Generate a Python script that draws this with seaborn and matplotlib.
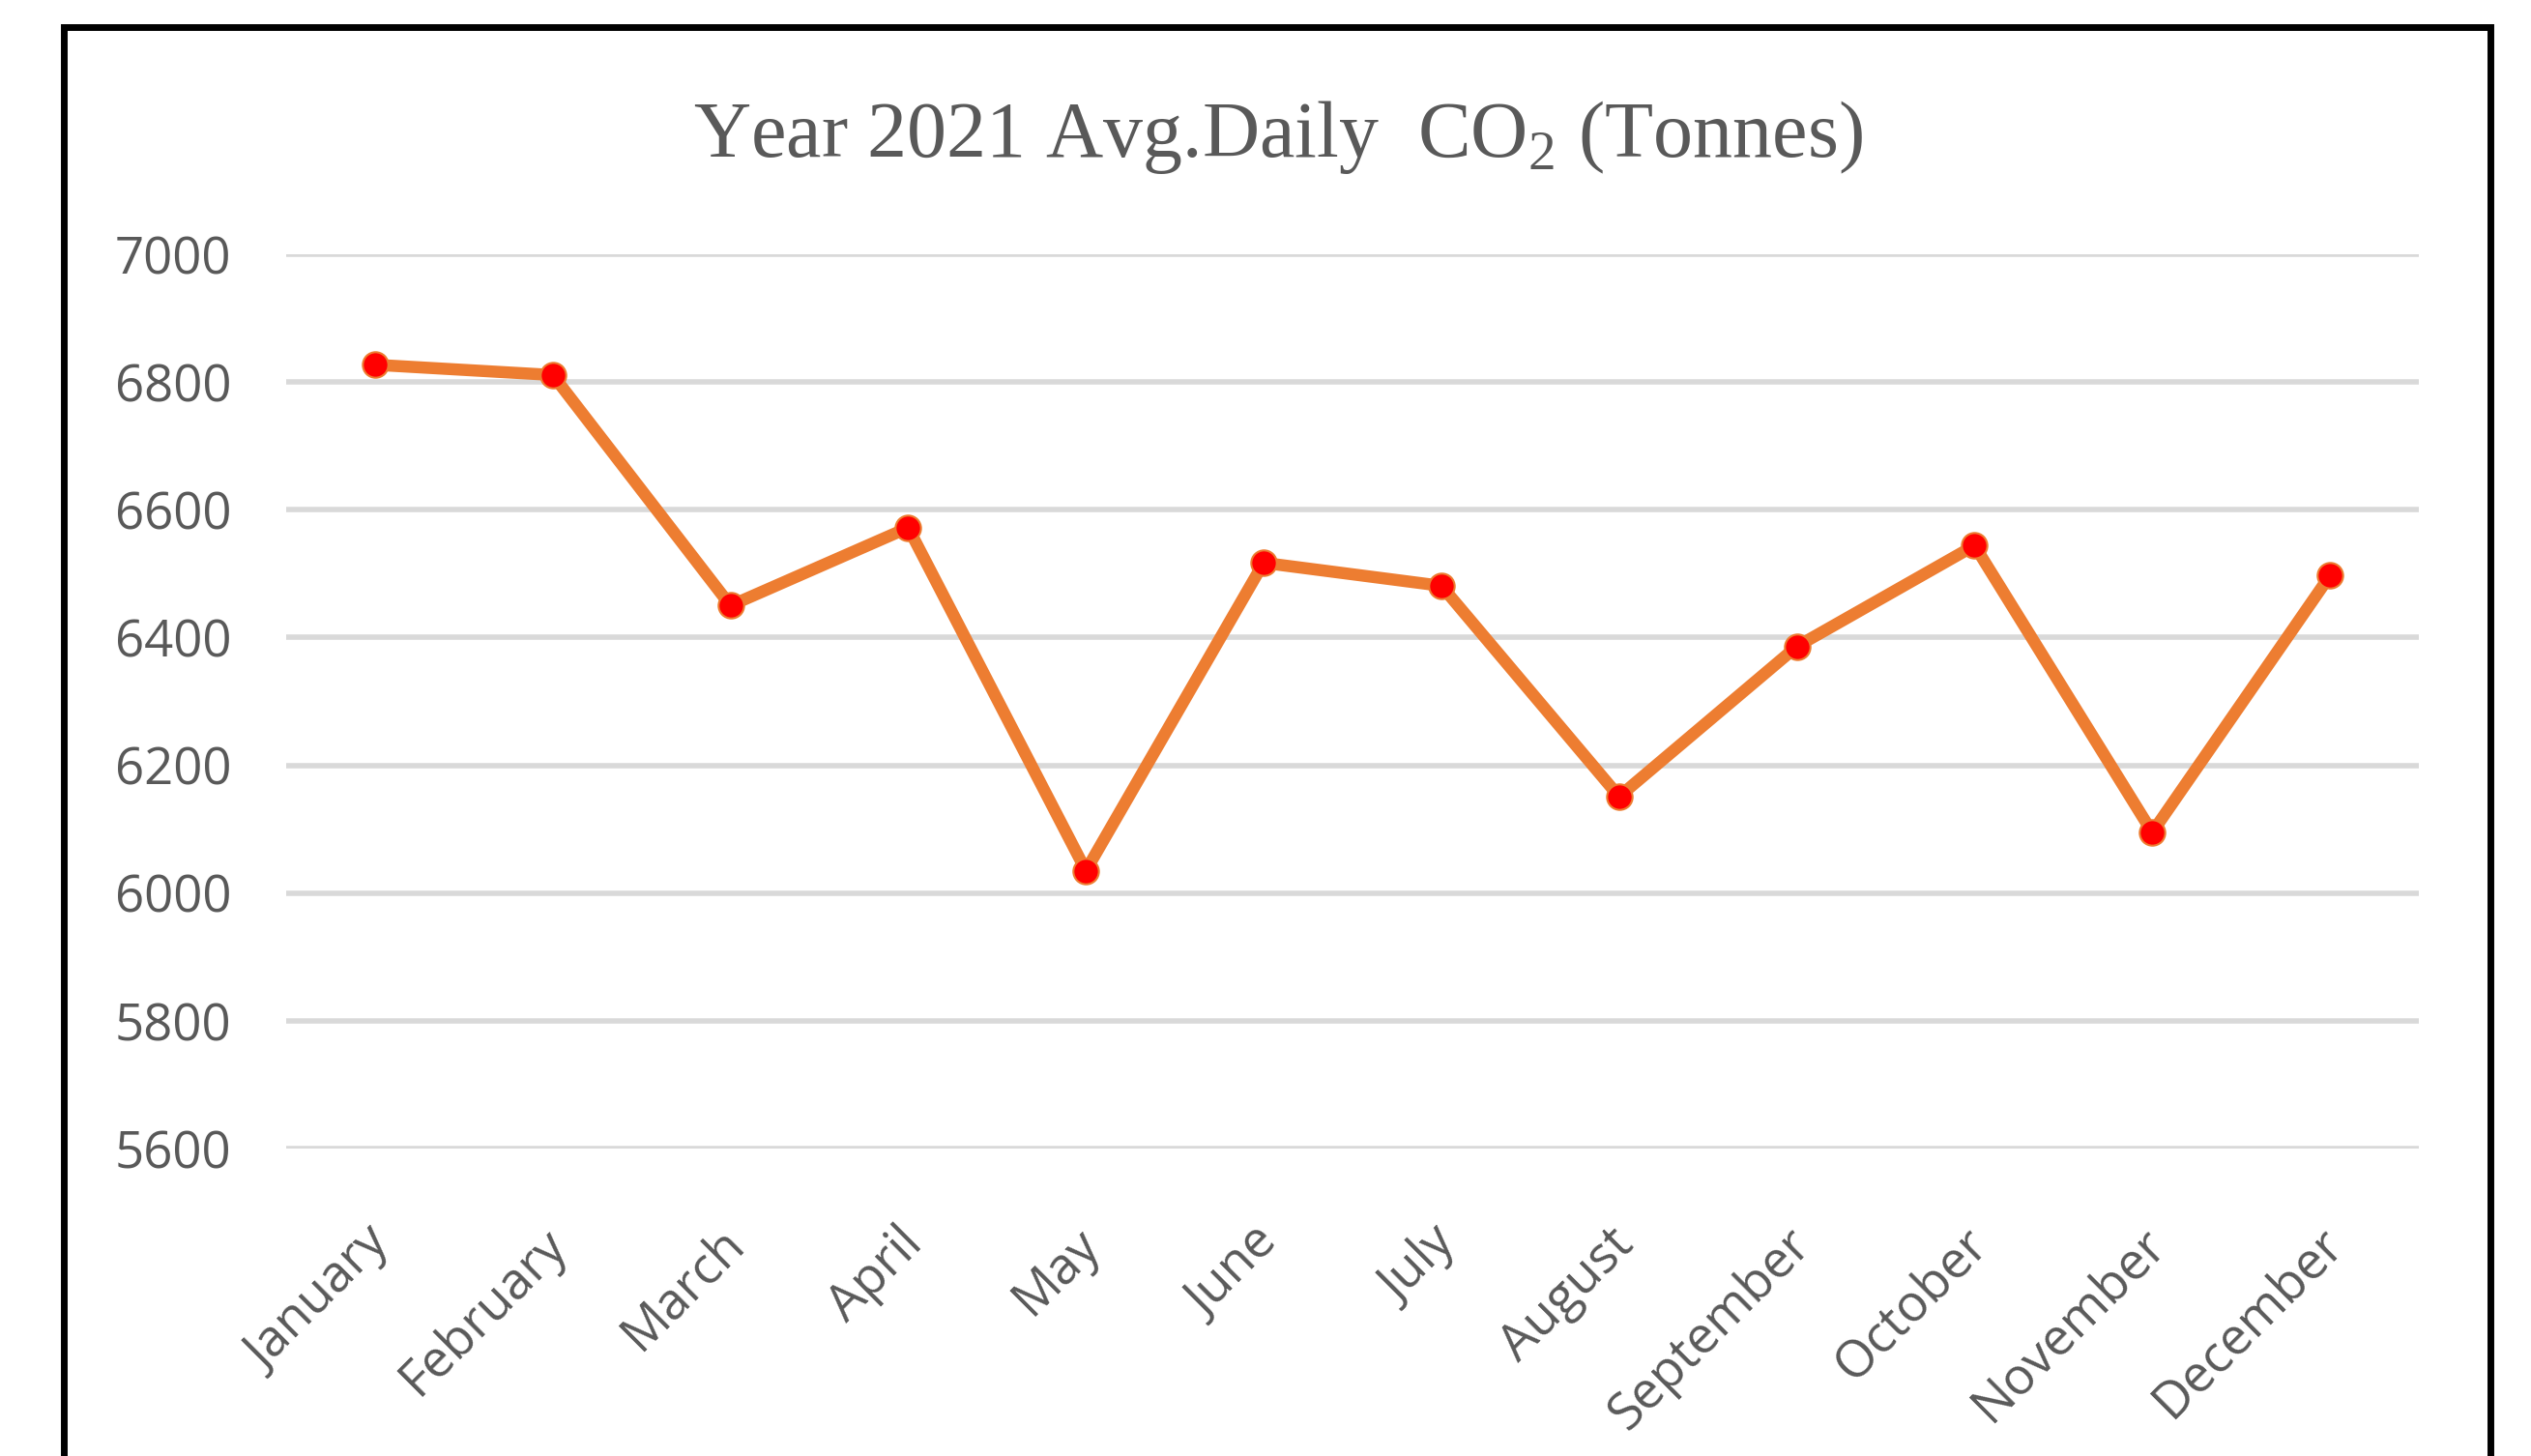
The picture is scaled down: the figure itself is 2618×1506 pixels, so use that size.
import matplotlib
matplotlib.use("Agg")
import matplotlib.pyplot as plt
import matplotlib.transforms as mtransforms
from matplotlib.patches import Rectangle
import seaborn as sns
import pandas as pd

months = ["January", "February", "March", "April", "May", "June", "July",
          "August", "September", "October", "November", "December"]
co2 = [6827, 6811, 6450, 6572, 6035, 6517, 6481, 6151, 6386, 6544, 6095, 6497]
y_ticks = [5600, 5800, 6000, 6200, 6400, 6600, 6800, 7000]
title = "Year 2021 Avg.Daily  CO$_\\mathregular{2}$ (Tonnes)"

sns.set_theme(style="white")
plt.rcParams['font.family'] = ['Open Sans', 'DejaVu Sans']
plt.rcParams['mathtext.fontset'] = 'custom'
plt.rcParams['mathtext.rm'] = 'Liberation Serif'

W, H = 2618, 1506
fig = plt.figure(figsize=(W / 100, H / 100), dpi=100)
ax = fig.add_axes([296 / W, 1 - 1188 / H, (2502 - 296) / W, (1188 - 263) / H])

df = pd.DataFrame({"month": months, "co2": co2})
sns.lineplot(data=df, x="month", y="co2", ax=ax, color="#ED7D31", linewidth=9,
             marker="o", markersize=19, markerfacecolor="#FF0000",
             markeredgecolor="#ED7D31", markeredgewidth=1.5, sort=False, zorder=3)

ax.set_xlim(-0.5, len(months) - 0.5)
ax.set_ylim(5600, 7000)
ax.set_yticks(y_ticks)
ax.set_yticklabels([str(v) for v in y_ticks])
ax.grid(axis="y", color="#D9D9D9", linewidth=4)
ax.grid(axis="x", visible=False)
ax.set_axisbelow(True)
for s in ax.spines.values():
    s.set_visible(False)
ax.set_xlabel("")
ax.set_ylabel("")
ax.tick_params(axis="y", length=0, pad=41, labelsize=38, labelcolor="#595959")
ax.tick_params(axis="x", length=0, pad=52, labelsize=38, labelcolor="#595959")
offset = mtransforms.ScaledTranslation(-12 / 100, 0, fig.dpi_scale_trans)
for lab in ax.get_xticklabels():
    lab.set_rotation(45)
    lab.set_ha("right")
    lab.set_va("top")
    lab.set_rotation_mode("anchor")
    lab.set_transform(lab.get_transform() + offset)

fig.text(1322 / W, 1 - 162 / H, title, ha="center", va="baseline",
         fontsize=59, color="#595959", family=["Liberation Serif", "DejaVu Serif"])

frame = Rectangle((66 / W, -0.1), (2576 - 66) / W, 1 - 28 / H + 0.1,
                  transform=fig.transFigure, fill=False, edgecolor="black",
                  linewidth=5, zorder=10)
fig.patches.append(frame)

fig.savefig("out.png", dpi=100, facecolor="white")
